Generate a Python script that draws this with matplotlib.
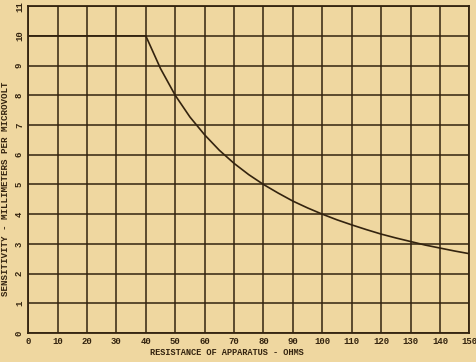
#!/usr/bin/env python3
# -*- coding: utf-8 -*-

import matplotlib
matplotlib.use('Agg')
import matplotlib.pyplot as plt

#------------------------------------------------------------------------------
# Data
#------------------------------------------------------------------------------
resistance  = [0, 40, 45, 50, 55, 60, 65, 70, 75, 80, 85, 90, 95, 100,
               105, 110, 115, 120, 125, 130, 135, 140, 145, 150]
sensitivity = [10.0, 10.0, 8.9, 8.0, 7.27, 6.67, 6.15, 5.71, 5.33, 5.0,
               4.71, 4.44, 4.21, 4.0, 3.81, 3.64, 3.48, 3.33, 3.2, 3.08,
               2.96, 2.86, 2.76, 2.67]
x_ticks = list(range(0, 151, 10))
y_ticks = list(range(0, 12))

#------------------------------------------------------------------------------
# Main
#------------------------------------------------------------------------------
def main():

  # Colours
  paper = '#efd7a0'
  ink   = '#33230f'

  # Font
  plt.rcParams['font.family'] = 'Liberation Mono'

  # Make new window
  fig = plt.figure(figsize = (4.77, 3.62), dpi = 100, facecolor = paper)
  ax = fig.add_axes([0.059, 0.080, 0.925, 0.903])
  ax.set_facecolor(paper)

  # Grid
  for x in x_ticks:
    ax.axvline(x, color = ink, lw = 1.1, zorder = 1)
  for y in y_ticks:
    ax.axhline(y, color = ink, lw = 1.1, zorder = 1)

  # Curve
  ax.plot(resistance, sensitivity, color = ink, lw = 1.2, zorder = 2)

  # Limits
  ax.set_xlim(0, 150)
  ax.set_ylim(0, 11)

  # Ticks
  ax.set_xticks(x_ticks)
  ax.set_yticks(y_ticks)
  ax.tick_params(length = 0, labelsize = 6.5, colors = ink, pad = 3)
  for label in ax.get_xticklabels() + ax.get_yticklabels():
    label.set_fontweight('bold')
  for label in ax.get_yticklabels():
    label.set_rotation(90)
    label.set_va('center')

  # Spines
  for spine in ax.spines.values():
    spine.set_color(ink)
    spine.set_linewidth(1.3)

  # Set axes label
  ax.set_xlabel('RESISTANCE OF APPARATUS - OHMS', fontsize = 6.2,
                fontweight = 'bold', color = ink)
  ax.set_ylabel('SENSITIVITY - MILLIMETERS PER MICROVOLT', fontsize = 6.6,
                fontweight = 'bold', color = ink)
  ax.xaxis.set_label_coords(0.45, -0.045)
  ax.yaxis.set_label_coords(-0.042, 0.44)

  # Save figure
  plt.savefig('out.png', dpi = 100, facecolor = paper)

  # Close figure
  plt.close()
#------------------------------------------------------------------------------

#------------------------------------------------------------------------------
# Call main
#------------------------------------------------------------------------------
if __name__ == '__main__':
  main()
#------------------------------------------------------------------------------
